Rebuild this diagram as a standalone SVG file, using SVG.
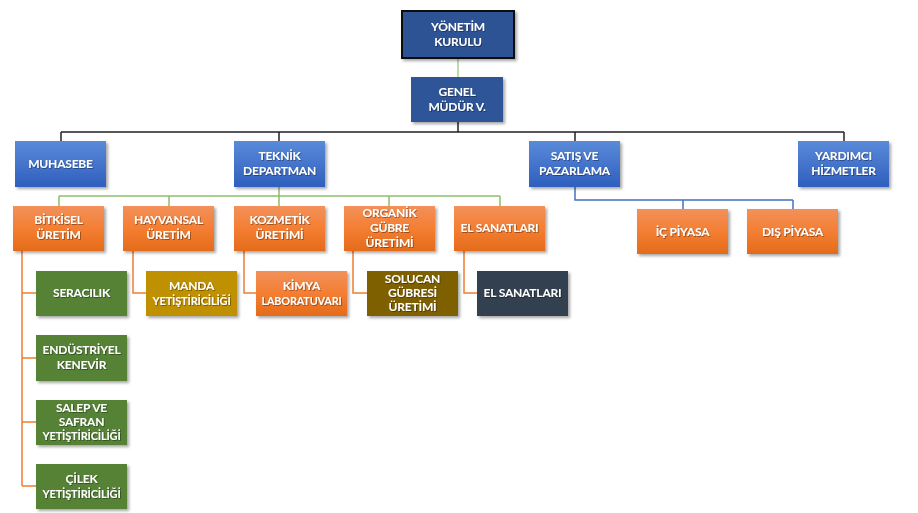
<svg xmlns="http://www.w3.org/2000/svg" width="918" height="513" viewBox="0 0 918 513">
<defs>
<linearGradient id="gBlue" x1="0" y1="0" x2="0" y2="1"><stop offset="0" stop-color="#5A8AD9"/><stop offset="1" stop-color="#2F5FBE"/></linearGradient>
<linearGradient id="gOrange" x1="0" y1="0" x2="0" y2="1"><stop offset="0" stop-color="#F2915A"/><stop offset="0.5" stop-color="#F47E32"/><stop offset="1" stop-color="#E46B1A"/></linearGradient>
<filter id="sh" x="-10%" y="-10%" width="125%" height="130%"><feDropShadow dx="2" dy="2" stdDeviation="1.5" flood-color="#000" flood-opacity="0.35"/></filter>
<filter id="tsh" x="-5%" y="-20%" width="110%" height="150%"><feDropShadow dx="0.8" dy="0.8" stdDeviation="0.4" flood-color="#000" flood-opacity="0.45"/></filter>
</defs>
<style>
text{font-family:Lato,"Open Sans","Liberation Sans",sans-serif;font-weight:700;font-size:12px;letter-spacing:-0.2px;fill:#fff;text-anchor:middle;filter:url(#tsh)}
.blue{fill:url(#gBlue);filter:url(#sh)}
.orange{fill:url(#gOrange);filter:url(#sh)}
.green{fill:#548235;filter:url(#sh)}
.gold{fill:#BF9000;filter:url(#sh)}
.brown{fill:#7F6000;filter:url(#sh)}
.slate{fill:#323F4F;filter:url(#sh)}
.c{fill:none;stroke-width:1.5}
</style>
<rect width="918" height="513" fill="#fff"/>
<g id="connectors">
<line class="c" x1="458" y1="58" x2="458" y2="77" stroke="#A9D18E" stroke-width="2"/>
<path class="c" stroke="#222" d="M458 122V132M61 132H844M61 132V141M279 132V141M575 132V141M844 132V141"/>
<path class="c" stroke="#8CC06A" d="M279 187V206M59 196H500M59 196V206M169 196V206M389 196V206M500 196V206"/>
<path class="c" stroke="#4472C4" d="M575 187V200H793M683 200V209M793 200V209"/>
<path class="c" stroke="#ED7D31" d="M22 251V486M22 293H36M22 358H36M22 422H36M22 486H36M133 251V293H146M244 251V293H256M353 251V293H367M464 251V293H477"/>
</g>
<g id="yonetim"><rect x="402" y="11" width="112" height="47" fill="#2E5395" stroke="#111" stroke-width="2" filter="url(#sh)"/><text x="458" y="31">YÖNETİM</text><text x="458" y="46">KURULU</text></g>
<g id="genel"><rect x="411" y="77" width="92" height="45" fill="#2F5597" filter="url(#sh)"/><text x="457" y="96">GENEL</text><text x="457" y="111">MÜDÜR V.</text></g>
<g id="muhasebe"><rect class="blue" x="15" y="141" width="91" height="46"/><text x="60.5" y="168">MUHASEBE</text></g>
<g id="teknik"><rect class="blue" x="234" y="141" width="91" height="46"/><text x="279.5" y="160">TEKNİK</text><text x="279.5" y="175">DEPARTMAN</text></g>
<g id="satis"><rect class="blue" x="529" y="141" width="91" height="46"/><text x="574.5" y="160">SATIŞ VE</text><text x="574.5" y="175">PAZARLAMA</text></g>
<g id="yardimci"><rect class="blue" x="798" y="141" width="91" height="46"/><text x="843.5" y="160">YARDIMCI</text><text x="843.5" y="175">HİZMETLER</text></g>
<g id="bitkisel"><rect class="orange" x="13" y="206" width="91" height="45"/><text x="58.5" y="224">BİTKİSEL</text><text x="58.5" y="239">ÜRETİM</text></g>
<g id="hayvansal"><rect class="orange" x="123" y="206" width="91" height="45"/><text x="168.5" y="224">HAYVANSAL</text><text x="168.5" y="239">ÜRETİM</text></g>
<g id="kozmetik"><rect class="orange" x="234" y="206" width="91" height="45"/><text x="279.5" y="224">KOZMETİK</text><text x="279.5" y="239">ÜRETİMİ</text></g>
<g id="organik"><rect class="orange" x="344" y="206" width="91" height="45"/><text x="389.5" y="217">ORGANİK</text><text x="389.5" y="232">GÜBRE</text><text x="389.5" y="247">ÜRETİMİ</text></g>
<g id="elsanat1"><rect class="orange" x="454" y="206" width="91" height="45"/><text x="499.5" y="232">EL SANATLARI</text></g>
<g id="icpiyasa"><rect class="orange" x="637" y="209" width="91" height="45"/><text x="682.5" y="236">İÇ PİYASA</text></g>
<g id="dispiyasa"><rect class="orange" x="747" y="209" width="91" height="45"/><text x="792.5" y="236">DIŞ PİYASA</text></g>
<g id="seracilik"><rect class="green" x="36" y="271" width="91" height="45"/><text x="81.5" y="297">SERACILIK</text></g>
<g id="manda"><rect class="gold" x="146" y="271" width="91" height="45"/><text x="191.5" y="290">MANDA</text><text x="191.5" y="305" textLength="78" lengthAdjust="spacingAndGlyphs">YETİŞTİRİCİLİĞİ</text></g>
<g id="kimya"><rect class="orange" x="256" y="271" width="91" height="45"/><text x="301.5" y="290">KİMYA</text><text x="301.5" y="305" textLength="80" lengthAdjust="spacingAndGlyphs">LABORATUVARI</text></g>
<g id="solucan"><rect class="brown" x="367" y="271" width="91" height="45"/><text x="412.5" y="283">SOLUCAN</text><text x="412.5" y="297">GÜBRESİ</text><text x="412.5" y="311">ÜRETİMİ</text></g>
<g id="elsanat2"><rect class="slate" x="477" y="271" width="91" height="45"/><text x="522.5" y="297">EL SANATLARI</text></g>
<g id="endustriyel"><rect class="green" x="36" y="335" width="91" height="46"/><text x="81.5" y="354">ENDÜSTRİYEL</text><text x="81.5" y="369">KENEVİR</text></g>
<g id="salep"><rect class="green" x="36" y="400" width="91" height="45"/><text x="81.5" y="412">SALEP VE</text><text x="81.5" y="426">SAFRAN</text><text x="81.5" y="440" textLength="78" lengthAdjust="spacingAndGlyphs">YETİŞTİRİCİLİĞİ</text></g>
<g id="cilek"><rect class="green" x="36" y="464" width="91" height="45"/><text x="81.5" y="483">ÇİLEK</text><text x="81.5" y="498" textLength="78" lengthAdjust="spacingAndGlyphs">YETİŞTİRİCİLİĞİ</text></g>
</svg>
